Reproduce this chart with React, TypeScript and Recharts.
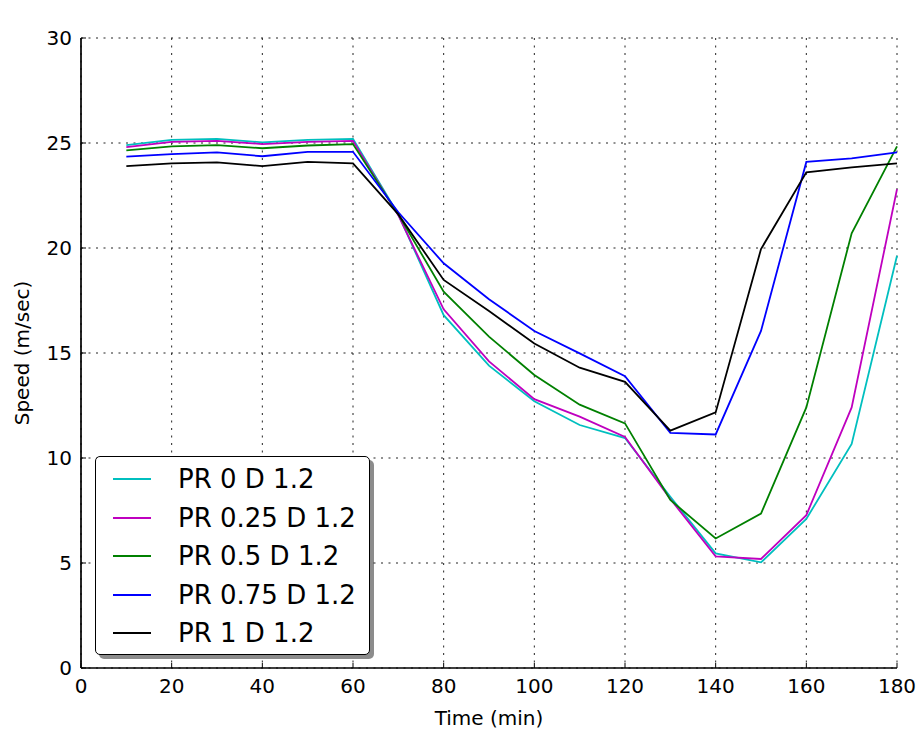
import { LineChart, Line, XAxis, YAxis, CartesianGrid } from 'recharts'

const times = [10, 20, 30, 40, 50, 60, 70, 80, 90, 100, 110, 120, 130, 140, 150, 160, 170, 180]

const pr0 = [24.9, 25.15, 25.2, 25.03, 25.15, 25.2, 21.6, 16.8, 14.4, 12.7, 11.57, 10.95, 8.15, 5.46, 5.03, 7.1, 10.67, 19.63]
const pr025 = [24.8, 25.05, 25.1, 24.95, 25.05, 25.1, 21.55, 17.08, 14.6, 12.8, 11.97, 11.0, 8.05, 5.32, 5.19, 7.28, 12.41, 22.8]
const pr05 = [24.65, 24.84, 24.9, 24.75, 24.88, 24.95, 21.6, 17.92, 15.78, 13.95, 12.54, 11.65, 8.0, 6.17, 7.35, 12.41, 20.7, 24.84]
const pr075 = [24.35, 24.47, 24.55, 24.37, 24.58, 24.58, 21.7, 19.27, 17.56, 16.05, 14.98, 13.9, 11.2, 11.12, 16.05, 24.1, 24.27, 24.55]
const pr1 = [23.9, 24.03, 24.08, 23.9, 24.1, 24.03, 21.6, 18.48, 17.0, 15.45, 14.3, 13.63, 11.3, 12.17, 19.95, 23.6, 23.84, 24.03]

const xTicks = [0, 20, 40, 60, 80, 100, 120, 140, 160, 180]
const yTicks = [0, 5, 10, 15, 20, 25, 30]

const series = [
  { key: 'pr0', name: 'PR 0 D 1.2', color: '#00bfbf', values: pr0 },
  { key: 'pr025', name: 'PR 0.25 D 1.2', color: '#bf00bf', values: pr025 },
  { key: 'pr05', name: 'PR 0.5 D 1.2', color: '#008000', values: pr05 },
  { key: 'pr075', name: 'PR 0.75 D 1.2', color: '#0000ff', values: pr075 },
  { key: 'pr1', name: 'PR 1 D 1.2', color: '#000000', values: pr1 },
]

const data = times.map((t, i) => {
  const row: Record<string, number> = { time: t }
  series.forEach((s) => {
    row[s.key] = s.values[i]
  })
  return row
})

const tickStyle = { fontSize: 20, fill: '#000' }
const frame = { stroke: '#000', strokeWidth: 1.7 }

function LegendBox() {
  return (
    <div
      style={{
        position: 'absolute',
        left: 95,
        top: 456,
        width: 275,
        height: 199,
        boxSizing: 'border-box',
        border: '1.5px solid #000',
        borderRadius: 5,
        background: '#fff',
        boxShadow: '4px 4px 0 rgba(0,0,0,0.45)',
        paddingTop: 3,
      }}
    >
      {series.map((s) => (
        <div key={s.key} style={{ height: 38.5, display: 'flex', alignItems: 'center' }}>
          <div style={{ marginLeft: 17, width: 38, height: 2, background: s.color }} />
          <span style={{ marginLeft: 27, fontSize: 26, lineHeight: '38px', color: '#000' }}>{s.name}</span>
        </div>
      ))}
    </div>
  )
}

export default function App() {
  return (
    <div
      style={{
        position: 'absolute',
        left: 0,
        top: 0,
        width: 921,
        height: 732,
        background: '#fff',
        fontFamily: '"DejaVu Sans", sans-serif',
      }}
    >
      <LineChart width={921} height={732} data={data} margin={{ top: 38, right: 24, left: 0, bottom: 0 }}>
        <CartesianGrid stroke="#222" strokeDasharray="2 5.5" />
        <XAxis
          dataKey="time"
          type="number"
          domain={[0, 180]}
          ticks={xTicks}
          interval={0}
          height={64}
          tick={tickStyle}
          tickSize={-5}
          tickMargin={16}
          axisLine={frame}
          tickLine={{ stroke: '#000' }}
          label={{ value: 'Time (min)', position: 'insideBottom', offset: 7, fontSize: 20, fill: '#000' }}
        />
        <XAxis
          xAxisId="top"
          orientation="top"
          dataKey="time"
          type="number"
          domain={[0, 180]}
          allowDataOverflow
          ticks={xTicks}
          interval={0}
          height={0}
          tick={false}
          tickSize={-5}
          axisLine={frame}
          tickLine={{ stroke: '#000' }}
          label={{ value: 'Time - Speed for various penetration rates', position: 'top', offset: 8, fontSize: 26, fill: '#000' }}
        />
        <YAxis
          type="number"
          domain={[0, 30]}
          ticks={yTicks}
          interval={0}
          width={81}
          tick={tickStyle}
          tickSize={-5}
          tickMargin={14}
          axisLine={frame}
          tickLine={{ stroke: '#000' }}
          label={{
            value: 'Speed (m/sec)',
            angle: -90,
            position: 'insideLeft',
            offset: 22,
            fontSize: 20,
            fill: '#000',
            style: { textAnchor: 'middle' },
          }}
        />
        <YAxis
          yAxisId="right"
          orientation="right"
          type="number"
          domain={[0, 30]}
          allowDataOverflow
          ticks={yTicks}
          interval={0}
          width={0}
          tick={false}
          tickSize={-5}
          axisLine={frame}
          tickLine={{ stroke: '#000' }}
        />
        {series.map((s) => (
          <Line
            key={s.key}
            type="linear"
            dataKey={s.key}
            name={s.name}
            stroke={s.color}
            strokeWidth={1.8}
            dot={false}
            isAnimationActive={false}
          />
        ))}
      </LineChart>
      <LegendBox />
    </div>
  )
}
